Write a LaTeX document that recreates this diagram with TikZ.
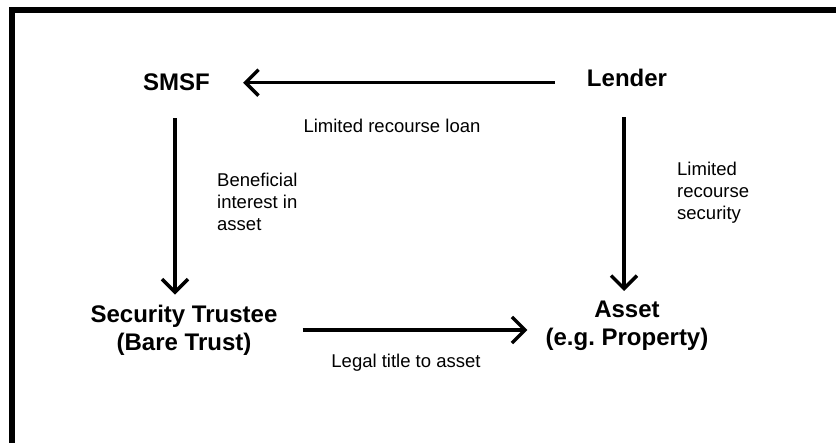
\documentclass[tikz,border=0pt]{standalone}
\usepackage{fontspec}
\setmainfont{Liberation Sans}
\usetikzlibrary{arrows.meta}
\frenchspacing
\begin{document}
\begin{tikzpicture}[x=1pt,y=-1pt,
  party/.style={inner sep=0pt, font=\bfseries\fontsize{24}{28}\selectfont, align=center},
  lbl/.style={inner sep=0pt, font=\fontsize{18.5}{22}\selectfont},
  conn/.style={line width=3.5pt, -{Straight Barb[length=13pt,width=26pt,line width=3.5pt]}}]
\useasboundingbox (0,0) rectangle (836,443);
\fill[white] (0,0) rectangle (836,443);
% frame
\draw[line width=6pt, line join=miter] (12,443) -- (12,10.5) -- (836,10.5);
% nodes
\node[party, anchor=base] (smsf) at (176.5,91) {SMSF};
\node[party, anchor=base] (lender) at (627,87) {Lender};
\node[party] (trustee) at (184,330) {Security Trustee\\(Bare Trust)};
\node[party] (asset) at (627,326) {Asset\\(e.g. Property)};
% labels
\node[lbl] (loan) at (392,126) {Limited recourse loan};
\node[lbl, align=left, anchor=north west] (benef) at (217,173) {Beneficial\\interest in\\asset};
\node[lbl, align=left, anchor=north west] (secur) at (677,162) {Limited\\recourse\\security};
\node[lbl] (legal) at (406,363) {Legal title to asset};
% connectors
\draw[conn, shorten <=32pt, shorten >=33pt] (lender.west |- smsf.center) -- (smsf.east);
\draw[conn, shorten <=27pt, shorten >=10pt] ([xshift=-1.5pt]smsf.south) -- ([xshift=-1.5pt]smsf.south |- trustee.north);
\draw[conn, shorten <=30pt, shorten >=10pt] ([xshift=-3pt]lender.south) -- ([xshift=-3pt]lender.south |- asset.north);
\draw[conn, shorten <=25pt, shorten >=18pt] (trustee.east) -- (trustee.east -| asset.west);
\end{tikzpicture}
\end{document}
